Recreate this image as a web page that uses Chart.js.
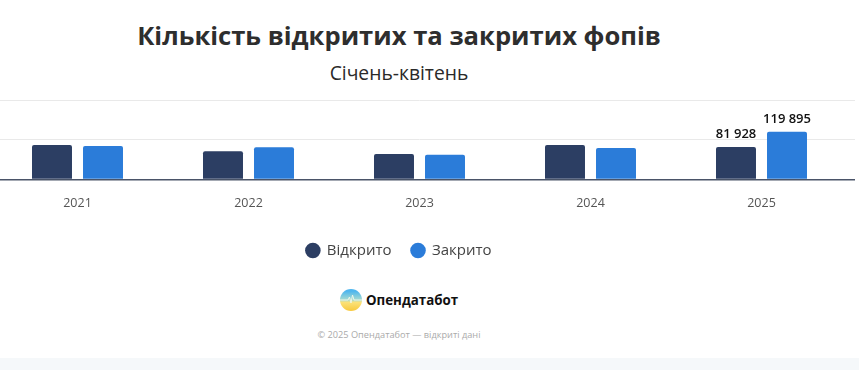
<!DOCTYPE html>
<html lang="uk">
<head>
    <meta charset="UTF-8">
    <title>Кількість відкритих та закритих фопів</title>
    <script src="https://cdn.jsdelivr.net/npm/chart.js"></script>
    <style>
        html, body { margin: 0; height: 100%; background: #fff; overflow: hidden; }
        #wrap { position: absolute; left: -8px; top: 0; width: 863px; height: 268px; }
        h1, h2 { position: absolute; left: 0; width: 798px; margin: 0; text-align: center; font-family: "Open Sans", sans-serif; }
        h1 { top: 18px; font-size: 25.6px; line-height: 36px; font-weight: 700; color: #2e2e2e; }
        h2 { top: 59px; font-size: 19.3px; line-height: 28px; font-weight: 400; color: #2a2a2a; }
        #brand { position: absolute; left: 340px; top: 289px; display: flex; align-items: center;
                 font: 700 13.3px "Open Sans", sans-serif; color: #111; }
        #brand svg { margin-right: 4px; }
        #copy { position: absolute; left: 0; width: 798px; top: 328px; text-align: center;
                font: 9.2px "Open Sans", sans-serif; color: #aaa; }
        #band { position: absolute; left: 0; right: 0; top: 358px; bottom: 0; background: #f5f8fa; }
    </style>
</head>
<body>

<h1>Кількість відкритих та закритих фопів</h1>
<h2>Січень-квітень</h2>
<div id="wrap"><canvas id="myChart"></canvas></div>

<div id="brand">
    <svg width="22" height="22" viewBox="0 0 22 22">
        <defs>
            <linearGradient id="g" x1="0" y1="0" x2="0" y2="1">
                <stop offset="0.1" stop-color="#4fb6ee"/>
                <stop offset="0.5" stop-color="#a8dcd0"/>
                <stop offset="0.6" stop-color="#fbe27a"/>
                <stop offset="1" stop-color="#f8c93e"/>
            </linearGradient>
        </defs>
        <circle cx="11" cy="11" r="11" fill="url(#g)"/>
        <path d="M0 11 H8 L9.5 8 L11 14 L12.5 6 L14 11 H22" fill="none" stroke="#eef6e8" stroke-width="1"/>
    </svg>
    Опендатабот
</div>
<div id="copy">© 2025 Опендатабот — відкриті дані</div>
<div id="band"></div>

<script>
    const years = ['2021', '2022', '2023', '2024', '2025'];
    const opened = [87000, 71000, 64000, 87000, 81928];
    const closed = [84000, 81000, 62000, 79000, 119895];
    const yTicks = [0, 100000, 200000];

    // only the last year has its numbers written above the bars
    const lastYearLabels = {
        id: 'lastYearLabels',
        afterDatasetsDraw(chart) {
            const ctx = chart.ctx;
            ctx.save();
            ctx.font = '600 13px "Open Sans", sans-serif';
            ctx.fillStyle = '#111';
            ctx.textAlign = 'center';
            ctx.textBaseline = 'alphabetic';
            chart.data.datasets.forEach((ds, i) => {
                const last = ds.data.length - 1;
                const bar = chart.getDatasetMeta(i).data[last];
                const text = String(ds.data[last]).replace(/\B(?=(\d{3})+$)/g, ' ');
                ctx.fillText(text, bar.x, bar.y - 9);
            });
            ctx.restore();
        }
    };

    // legend sits under the page heading, not under the middle of the canvas
    const legendShift = {
        id: 'legendShift',
        afterLayout(chart) { chart.legend.right -= 49; }
    };

    new Chart(document.getElementById('myChart'), {
        type: 'bar',
        data: {
            labels: years,
            datasets: [
                { label: 'Відкрито', data: opened, backgroundColor: '#2c3e63', borderRadius: 2 },
                { label: 'Закрито', data: closed, backgroundColor: '#2b7cd9', borderRadius: 2 }
            ]
        },
        options: {
            responsive: true,
            maintainAspectRatio: false,
            animation: false,
            layout: { padding: { top: 100 } },
            datasets: { bar: { categoryPercentage: 0.5965, barPercentage: 0.784 } },
            scales: {
                x: {
                    grid: { display: false },
                    border: { display: false },
                    ticks: { color: '#555', font: { family: '"Open Sans"', size: 12.5 }, padding: 8, maxRotation: 0 },
                    afterFit(axis) { axis.height = 43.5; }
                },
                y: {
                    position: 'right',
                    min: 0,
                    max: 200000,
                    afterBuildTicks(axis) { axis.ticks = yTicks.map(v => ({ value: v })); },
                    border: { display: false },
                    ticks: { display: false },
                    grid: {
                        tickLength: 8,
                        color: c => c.tick.value === 0 ? '#4a5468' : '#e9e9e9',
                        lineWidth: c => c.tick.value === 0 ? 1.5 : 1
                    }
                }
            },
            plugins: {
                tooltip: { enabled: false },
                legend: {
                    position: 'bottom',
                    labels: {
                        usePointStyle: true,
                        pointStyle: 'circle',
                        boxWidth: 13,
                        boxHeight: 11,
                        padding: 20,
                        color: '#444',
                        font: { family: '"Open Sans"', size: 15 }
                    }
                }
            }
        },
        plugins: [lastYearLabels, legendShift]
    });
</script>

</body>
</html>
